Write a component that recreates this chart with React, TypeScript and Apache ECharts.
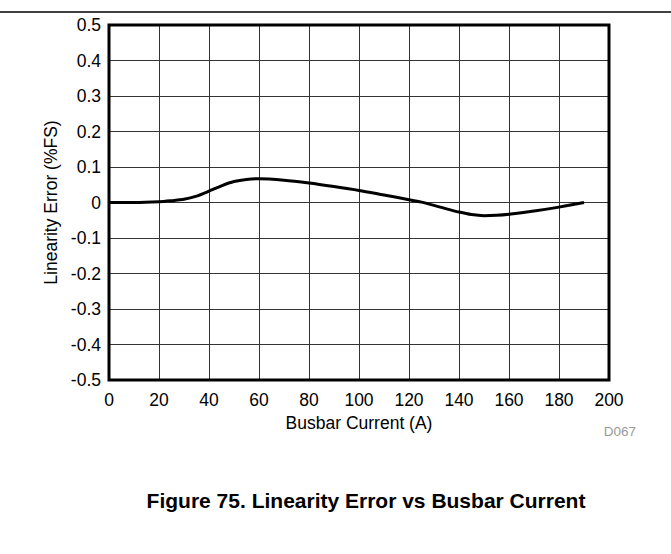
import React, { useEffect, useRef } from "react";
import * as echarts from "echarts";

const current = [0, 10, 20, 25, 30, 35, 40, 45, 50, 55, 60, 70, 80, 90, 100, 110, 120, 125, 130, 135, 140, 145, 150, 155, 160, 170, 180, 190];
const linError = [0, 0, 0.002, 0.005, 0.009, 0.018, 0.032, 0.047, 0.059, 0.065, 0.067, 0.063, 0.055, 0.045, 0.034, 0.021, 0.008, 0.001, -0.008, -0.018, -0.027, -0.034, -0.037, -0.036, -0.033, -0.024, -0.013, 0];
const xTicks = [0, 20, 40, 60, 80, 100, 120, 140, 160, 180, 200];
const yTicks = [-0.5, -0.4, -0.3, -0.2, -0.1, 0, 0.1, 0.2, 0.3, 0.4, 0.5];

const FONT = "'Liberation Sans', Arial, sans-serif";
const FS = 17.5;

export default function App() {
  const ref = useRef<HTMLDivElement>(null);
  useEffect(() => {
    if (!ref.current) return;
    const chart = echarts.init(ref.current, null, { renderer: "svg" });
    chart.setOption({
      animation: false,
      backgroundColor: "#fff",
      textStyle: { fontFamily: FONT },
      grid: { left: 109, top: 25, width: 500, height: 355, show: false },
      xAxis: {
        type: "value",
        min: xTicks[0],
        max: xTicks[xTicks.length - 1],
        interval: 20,
        name: "Busbar Current (A)",
        nameLocation: "middle",
        nameGap: 31,
        nameTextStyle: { fontSize: FS, color: "#000", fontFamily: FONT },
        axisLine: { show: false },
        axisTick: { show: false },
        axisLabel: { fontSize: FS, color: "#000", margin: 11, fontFamily: FONT, formatter: (v: number) => (xTicks.includes(v) ? String(v) : "") },
        splitLine: { show: true, lineStyle: { color: "#333", width: 1 } },
      },
      yAxis: {
        type: "value",
        min: yTicks[0],
        max: yTicks[yTicks.length - 1],
        interval: 0.1,
        name: "Linearity Error (%FS)",
        nameLocation: "middle",
        nameGap: 49,
        nameTextStyle: { fontSize: FS, color: "#000", fontFamily: FONT },
        axisLine: { show: false },
        axisTick: { show: false },
        axisLabel: {
          fontSize: FS,
          color: "#000",
          margin: 8,
          fontFamily: FONT,
          formatter: (v: number) => {
            const r = Math.round(v * 10) / 10;
            return r === 0 ? "0" : r.toFixed(1);
          },
        },
        splitLine: { show: true, lineStyle: { color: "#333", width: 1 } },
      },
      graphic: [
        { type: "line", shape: { x1: 0, y1: 12, x2: 671, y2: 12 }, style: { stroke: "#000", lineWidth: 1.5 } },
        { type: "rect", shape: { x: 109, y: 25, width: 500, height: 355 }, style: { fill: "none", stroke: "#000", lineWidth: 3 }, z: 100 },
        { type: "text", x: 636, y: 431, style: { text: "D067", fontSize: 13.5, fill: "#999", fontFamily: FONT, align: "right", verticalAlign: "middle" } },
        { type: "text", x: 366, y: 500, style: { text: "Figure 75. Linearity Error vs Busbar Current", fontSize: 21, fontWeight: "bold", fill: "#000", fontFamily: FONT, align: "center", verticalAlign: "middle" } },
      ],
      series: [
        {
          type: "line",
          data: current.map((c, i) => [c, linError[i]]),
          showSymbol: false,
          smooth: 0.3,
          lineStyle: { color: "#000", width: 3 },
          z: 50,
        },
      ],
    });
    return () => chart.dispose();
  }, []);
  return <div ref={ref} style={{ position: "fixed", left: 0, top: 0, width: 671, height: 554 }} />;
}
